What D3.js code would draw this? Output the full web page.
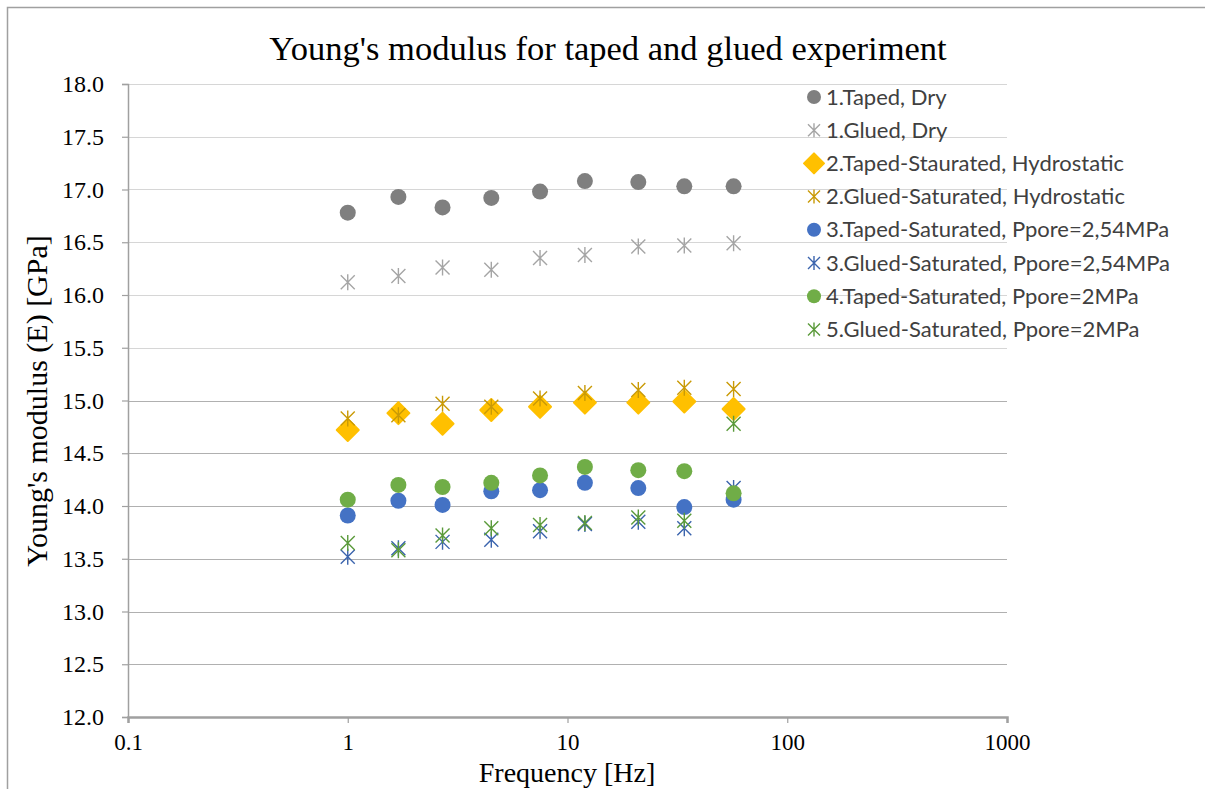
<!DOCTYPE html>
<html lang="en">
<head>
    <meta charset="UTF-8">
    <title>Young's modulus</title>
    <script src="https://cdn.jsdelivr.net/npm/d3@7"></script>
    <style>
        body{
            margin: 0;
            background-color: #ffffff;
        }
    </style>
</head>
<body>
<div id="chart"></div>
<script>
    var WIDTH = 1205;
    var HEIGHT = 789;
    var MARGIN = {left: 128, right: 198, top: 84, bottom: 72};

    var FREQUENCIES = [1, 1.7, 2.7, 4.5, 7.5, 12, 21, 34, 57];
    var X_TICKS = [0.1, 1, 10, 100, 1000];
    var Y_TICKS = [12, 12.5, 13, 13.5, 14, 14.5, 15, 15.5, 16, 16.5, 17, 17.5, 18];

    var SERIES_NAMES = [
        "1.Taped, Dry",
        "1.Glued, Dry",
        "2.Taped-Staurated, Hydrostatic",
        "2.Glued-Saturated, Hydrostatic",
        "3.Taped-Saturated, Ppore=2,54MPa",
        "3.Glued-Saturated, Ppore=2,54MPa",
        "4.Taped-Saturated, Ppore=2MPa",
        "5.Glued-Saturated, Ppore=2MPa"
    ];
    var tapedDry = [16.78, 16.93, 16.83, 16.92, 16.98, 17.08, 17.07, 17.03, 17.03];
    var gluedDry = [16.12, 16.18, 16.26, 16.24, 16.35, 16.38, 16.46, 16.47, 16.49];
    var tapedHydro = [14.72, 14.88, 14.78, 14.91, 14.94, 14.98, 14.98, 14.99, 14.92];
    var gluedHydro = [14.83, 14.86, 14.97, 14.94, 15.02, 15.07, 15.10, 15.12, 15.11];
    var tapedP254 = [13.91, 14.05, 14.01, 14.14, 14.15, 14.22, 14.17, 13.99, 14.06];
    var gluedP254 = [13.52, 13.60, 13.66, 13.68, 13.76, 13.83, 13.85, 13.79, 14.17];
    var tapedP2 = [14.06, 14.20, 14.18, 14.22, 14.29, 14.37, 14.34, 14.33, 14.12];
    var gluedP2 = [13.65, 13.58, 13.72, 13.79, 13.82, 13.84, 13.89, 13.86, 14.78];

    var SERIES_VALUES = [tapedDry, gluedDry, tapedHydro, gluedHydro, tapedP254, gluedP254, tapedP2, gluedP2];
    var SHAPES = ["circle", "star", "diamond", "star", "circle", "star", "circle", "star"];
    var COLORS = ["#7f7f7f", "#a5a5a5", "#ffc000", "#c99a06", "#4472c4", "#3b64ad", "#70ad47", "#5a9a3a"];

    var SERIF = "'Liberation Serif', 'Times New Roman', serif";

    var svg = d3.select("#chart").append("svg")
        .attr("width", WIDTH)
        .attr("height", HEIGHT);

    // chart frame
    svg.append("path")
        .attr("d", "M7.5," + HEIGHT + "V7.5H" + WIDTH)
        .attr("fill", "none")
        .attr("stroke", "#a0a0a0")
        .attr("stroke-width", 1.5);

    var x = d3.scaleLog()
        .domain([0.1, 1000])
        .range([MARGIN.left, WIDTH - MARGIN.right]);

    var y = d3.scaleLinear()
        .domain([12, 18])
        .range([HEIGHT - MARGIN.bottom, MARGIN.top]);

    // gridlines
    svg.append("g").selectAll("line")
        .data(Y_TICKS.slice(1))
        .enter().append("line")
        .attr("x1", MARGIN.left)
        .attr("x2", WIDTH - MARGIN.right)
        .attr("y1", function(d){ return Math.round(y(d)) + 0.5; })
        .attr("y2", function(d){ return Math.round(y(d)) + 0.5; })
        .attr("stroke", function(d){ return d > 15.2 ? "#d6d6d6" : "#b0b0b0"; })
        .attr("stroke-width", 1.2);

    var yAxis = svg.append("g")
        .attr("transform", "translate(" + MARGIN.left + ",0)")
        .attr("font-family", SERIF)
        .call(d3.axisLeft(y).tickValues(Y_TICKS).tickFormat(d3.format(".1f")).tickSize(6).tickPadding(18));
    yAxis.attr("font-family", SERIF);
    yAxis.select(".domain").attr("stroke", "#a0a0a0").attr("stroke-width", 1.5);
    yAxis.selectAll(".tick line").attr("stroke", "#a0a0a0").attr("stroke-width", 1.2);
    yAxis.selectAll(".tick text")
        .style("font-family", SERIF)
        .style("font-size", "24px")
        .attr("fill", "#000");

    var xAxis = svg.append("g")
        .attr("transform", "translate(0," + (HEIGHT - MARGIN.bottom) + ")")
        .call(d3.axisBottom(x).tickValues(X_TICKS).tickFormat(d3.format("")).tickSize(6).tickPadding(11));
    xAxis.attr("font-family", SERIF);
    xAxis.select(".domain").attr("stroke", "#a0a0a0").attr("stroke-width", 2.5);
    xAxis.selectAll(".tick line").attr("stroke", "#a0a0a0").attr("stroke-width", 1.2);
    xAxis.selectAll(".tick text")
        .style("font-family", SERIF)
        .style("font-size", "23px")
        .attr("fill", "#000");

    // markers
    function drawMarker(g, shape, color, size){
        if (shape === "circle"){
            g.append("circle").attr("r", size).attr("fill", color);
        } else if (shape === "diamond"){
            g.append("path")
                .attr("d", "M0,-" + (size + 3) + "L" + (size + 3) + ",0L0," + (size + 3) + "L-" + (size + 3) + ",0Z")
                .attr("fill", color)
                .attr("stroke", color)
                .attr("stroke-width", 2)
                .attr("stroke-linejoin", "round");
        } else {
            var s = size - 1;
            g.append("path")
                .attr("d", "M-" + s + ",-" + s + "L" + s + "," + s + "M-" + s + "," + s + "L" + s + ",-" + s +
                    "M0,-" + (s + 1) + "V" + (s + 1))
                .attr("fill", "none")
                .attr("stroke", color)
                .attr("stroke-width", 1.4);
        }
    }

    SERIES_VALUES.forEach(function(values, i){
        var g = svg.append("g");
        values.forEach(function(v, j){
            var m = g.append("g")
                .attr("transform", "translate(" + x(FREQUENCIES[j]) + "," + y(v) + ")");
            drawMarker(m, SHAPES[i], COLORS[i], 8);
        });
    });

    // legend
    var legend = svg.append("g").attr("transform", "translate(814, 97)");
    SERIES_NAMES.forEach(function(name, i){
        var row = legend.append("g").attr("transform", "translate(0," + (i * 33.2) + ")");
        drawMarker(row, SHAPES[i], COLORS[i], 7);
        row.append("text")
            .text(name)
            .attr("x", 12)
            .attr("y", 7.5)
            .style("font-family", "Lato, 'Open Sans', sans-serif")
            .style("font-size", "22px")
            .attr("fill", "#404040");
    });

    // titles
    svg.append("text")
        .text("Young's modulus for taped and glued experiment")
        .attr("x", 608)
        .attr("y", 60)
        .attr("text-anchor", "middle")
        .style("font-family", SERIF)
        .style("font-size", "34.5px")
        .attr("fill", "#000");

    svg.append("text")
        .text("Young's modulus (E) [GPa]")
        .attr("transform", "translate(47,401) rotate(-90)")
        .attr("text-anchor", "middle")
        .style("font-family", SERIF)
        .style("font-size", "30px")
        .attr("fill", "#000");

    svg.append("text")
        .text("Frequency [Hz]")
        .attr("x", 567)
        .attr("y", 782)
        .attr("text-anchor", "middle")
        .style("font-family", SERIF)
        .style("font-size", "28px")
        .attr("fill", "#000");
</script>
</body>
</html>
